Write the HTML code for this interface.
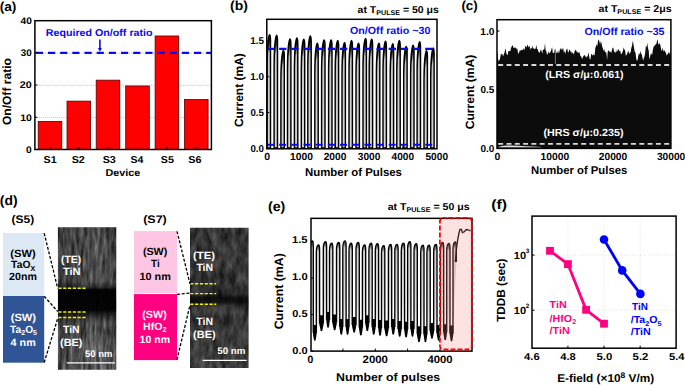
<!DOCTYPE html>
<html><head><meta charset="utf-8"><style>
html,body{margin:0;padding:0;background:#fff;width:685px;height:385px;overflow:hidden}
svg{display:block}
text{font-family:"Liberation Sans",sans-serif;font-weight:bold;text-rendering:geometricPrecision}
</style></head><body>
<svg width="685" height="385" viewBox="0 0 685 385">
<defs>
<clipPath id="clipb"><rect x="266.8" y="19.3" width="170.2" height="129.5"/></clipPath>
<clipPath id="clipc"><rect x="497.0" y="19.7" width="173.9" height="128.7"/></clipPath>
<clipPath id="clipe"><rect x="311.0" y="218.3" width="161.0" height="132.8"/></clipPath>
<clipPath id="clip1"><rect x="57.9" y="227.2" width="58.4" height="142.5"/></clipPath>
<clipPath id="clip2"><rect x="190.0" y="227.7" width="58.6" height="140.2"/></clipPath>
<filter id="tn1" filterUnits="userSpaceOnUse" x="57" y="226" width="60" height="145" color-interpolation-filters="sRGB">
<feTurbulence type="fractalNoise" baseFrequency="0.3 0.05" numOctaves="3" seed="4"/>
<feColorMatrix type="matrix" values="1 0 0 0 0 1 0 0 0 0 1 0 0 0 0 0 0 0 0 1"/>
<feComponentTransfer><feFuncR type="linear" slope="0.62" intercept="0.0"/><feFuncG type="linear" slope="0.62" intercept="0.0"/><feFuncB type="linear" slope="0.62" intercept="0.0"/></feComponentTransfer>
</filter>
<filter id="tn2" filterUnits="userSpaceOnUse" x="189" y="226" width="61" height="143" color-interpolation-filters="sRGB">
<feTurbulence type="fractalNoise" baseFrequency="0.16 0.07" numOctaves="3" seed="9"/>
<feColorMatrix type="matrix" values="1 0 0 0 0 1 0 0 0 0 1 0 0 0 0 0 0 0 0 1"/>
<feComponentTransfer><feFuncR type="linear" slope="0.45" intercept="0.025"/><feFuncG type="linear" slope="0.45" intercept="0.025"/><feFuncB type="linear" slope="0.45" intercept="0.025"/></feComponentTransfer>
</filter>
<linearGradient id="th1" x1="0" y1="0" x2="1" y2="0">
<stop offset="0" stop-color="#000" stop-opacity="0.15"/><stop offset="0.3" stop-color="#000" stop-opacity="0.05"/><stop offset="0.65" stop-color="#fff" stop-opacity="0.08"/><stop offset="1" stop-color="#000" stop-opacity="0.1"/></linearGradient>
<linearGradient id="th2" x1="0" y1="0" x2="1" y2="0">
<stop offset="0" stop-color="#000" stop-opacity="0.05"/><stop offset="1" stop-color="#000" stop-opacity="0.05"/></linearGradient>
<filter id="blurx" x="-5%" y="-5%" width="110%" height="110%"><feGaussianBlur stdDeviation="0.7 0"/></filter>
<linearGradient id="tv1" x1="0" y1="0" x2="0" y2="1">
<stop offset="0" stop-color="#000" stop-opacity="0.15"/><stop offset="0.38" stop-color="#000" stop-opacity="0.1"/>
<stop offset="0.42" stop-color="#000" stop-opacity="0.5"/><stop offset="0.44" stop-color="#000" stop-opacity="0.97"/>
<stop offset="0.58" stop-color="#000" stop-opacity="0.95"/><stop offset="0.64" stop-color="#000" stop-opacity="0.35"/><stop offset="0.68" stop-color="#000" stop-opacity="0.05"/>
<stop offset="1" stop-color="#000" stop-opacity="0"/></linearGradient>
<linearGradient id="tv2" x1="0" y1="0" x2="0" y2="1">
<stop offset="0" stop-color="#000" stop-opacity="0.1"/><stop offset="0.4" stop-color="#000" stop-opacity="0.15"/>
<stop offset="0.47" stop-color="#000" stop-opacity="0.3"/><stop offset="0.5" stop-color="#000" stop-opacity="0.75"/>
<stop offset="0.53" stop-color="#000" stop-opacity="0.75"/><stop offset="0.56" stop-color="#000" stop-opacity="0.3"/>
<stop offset="0.6" stop-color="#000" stop-opacity="0.05"/><stop offset="1" stop-color="#000" stop-opacity="0.05"/></linearGradient>
<linearGradient id="humpb" x1="0" y1="0" x2="0" y2="1">
<stop offset="0" stop-color="#000"/><stop offset="0.06" stop-color="#202020"/><stop offset="0.16" stop-color="#c4c4c4"/><stop offset="1" stop-color="#d8d8d8"/></linearGradient>
<linearGradient id="humpe" x1="0" y1="0" x2="0" y2="1">
<stop offset="0" stop-color="#000"/><stop offset="0.03" stop-color="#606060"/><stop offset="0.08" stop-color="#d0d0d0"/><stop offset="0.7" stop-color="#dcdcdc"/><stop offset="1" stop-color="#f4f4f4"/></linearGradient>
<linearGradient id="humpe2" x1="0" y1="0" x2="0" y2="1">
<stop offset="0" stop-color="#3a1c1c"/><stop offset="0.03" stop-color="#7a5c5c"/><stop offset="0.08" stop-color="#dcbcbc"/><stop offset="0.7" stop-color="#e4c8c8"/><stop offset="1" stop-color="#f4dede"/></linearGradient>
</defs>
<text transform="translate(-0.33,11.00) scale(1.0544,1)" font-size="13" fill="#000">(a)</text>
<line x1="34.90" y1="117.55" x2="211.40" y2="117.55" stroke="#b4b4b4" stroke-width="0.8" stroke-dasharray="1 1"/>
<line x1="34.90" y1="85.30" x2="211.40" y2="85.30" stroke="#b4b4b4" stroke-width="0.8" stroke-dasharray="1 1"/>
<line x1="34.90" y1="53.05" x2="211.40" y2="53.05" stroke="#b4b4b4" stroke-width="0.8" stroke-dasharray="1 1"/>
<rect x="38.20" y="121.44" width="23.60" height="28.06" fill="#ff0000" stroke="#5a0000" stroke-width="0.8" />
<rect x="67.00" y="101.12" width="23.60" height="48.38" fill="#ff0000" stroke="#5a0000" stroke-width="0.8" />
<rect x="96.20" y="80.16" width="23.60" height="69.34" fill="#ff0000" stroke="#5a0000" stroke-width="0.8" />
<rect x="125.70" y="85.97" width="23.60" height="63.53" fill="#ff0000" stroke="#5a0000" stroke-width="0.8" />
<rect x="155.10" y="35.98" width="23.60" height="113.52" fill="#ff0000" stroke="#5a0000" stroke-width="0.8" />
<rect x="184.50" y="99.51" width="23.60" height="49.99" fill="#ff0000" stroke="#5a0000" stroke-width="0.8" />
<line x1="35.80" y1="52.90" x2="211.00" y2="52.90" stroke="#0a0af0" stroke-width="2.1" stroke-dasharray="7.2 4.97"/>
<line x1="99.90" y1="39.40" x2="99.90" y2="48.80" stroke="#0a0af0" stroke-width="1.6" />
<path d="M97.9,48.0 L101.9,48.0 L99.9,51.8 Z" fill="#0a0af0"/>
<text transform="translate(45.75,36.10) scale(1.0677,1)" font-size="10" fill="#0a0af0">Required On/off ratio</text>
<rect x="34.90" y="20.70" width="176.50" height="128.80" fill="none" stroke="#000" stroke-width="1.5" />
<text transform="translate(26.07,152.80) scale(1.0667,1)" font-size="9.6" fill="#000">0</text>
<text transform="translate(20.14,120.55) scale(1.0938,1)" font-size="9.6" fill="#000">10</text>
<line x1="34.90" y1="117.25" x2="37.40" y2="117.25" stroke="#000" stroke-width="1" />
<text transform="translate(19.86,88.30) scale(1.1212,1)" font-size="9.6" fill="#000">20</text>
<line x1="34.90" y1="85.00" x2="37.40" y2="85.00" stroke="#000" stroke-width="1" />
<text transform="translate(20.79,56.05) scale(1.0300,1)" font-size="9.6" fill="#000">30</text>
<line x1="34.90" y1="52.75" x2="37.40" y2="52.75" stroke="#000" stroke-width="1" />
<text transform="translate(20.49,23.80) scale(1.0594,1)" font-size="9.6" fill="#000">40</text>
<line x1="50.00" y1="149.50" x2="50.00" y2="147.00" stroke="#000" stroke-width="1" />
<line x1="78.80" y1="149.50" x2="78.80" y2="147.00" stroke="#000" stroke-width="1" />
<line x1="108.00" y1="149.50" x2="108.00" y2="147.00" stroke="#000" stroke-width="1" />
<line x1="137.50" y1="149.50" x2="137.50" y2="147.00" stroke="#000" stroke-width="1" />
<line x1="166.90" y1="149.50" x2="166.90" y2="147.00" stroke="#000" stroke-width="1" />
<line x1="196.30" y1="149.50" x2="196.30" y2="147.00" stroke="#000" stroke-width="1" />
<text transform="translate(43.53,162.80) scale(1.0684,1)" font-size="10" fill="#000">S1</text>
<text transform="translate(71.63,162.80) scale(1.0776,1)" font-size="10" fill="#000">S2</text>
<text transform="translate(102.68,162.80) scale(1.0776,1)" font-size="10" fill="#000">S3</text>
<text transform="translate(130.48,162.80) scale(1.0504,1)" font-size="10" fill="#000">S4</text>
<text transform="translate(160.78,162.80) scale(1.0684,1)" font-size="10" fill="#000">S5</text>
<text transform="translate(188.28,162.80) scale(1.0776,1)" font-size="10" fill="#000">S6</text>
<text transform="translate(105.44,175.50) scale(1.0801,1)" font-size="10" fill="#000">Device</text>
<text transform="translate(11.10,125.10) rotate(-90) scale(1.0046,1)" font-size="12.0" fill="#000">On/Off ratio</text>
<text transform="translate(230.05,9.80) scale(1.0779,1)" font-size="13" fill="#000">(b)</text>
<g clip-path="url(#clipb)">
<path d="M267.10,148.0 L267.10,64.60 C267.20,48.60 268.70,36.10 269.60,34.60 C270.10,34.60 270.50,36.60 270.50,40.60 L270.50,148.0 Z" fill="url(#humpb)" stroke="#000" stroke-width="1.45" stroke-linejoin="round"/>
<path d="M274.10,148.0 L274.10,65.30 C274.20,49.30 275.70,36.80 276.60,35.30 C277.10,35.30 277.50,37.30 277.50,41.30 L277.50,148.0 Z" fill="url(#humpb)" stroke="#000" stroke-width="1.45" stroke-linejoin="round"/>
<path d="M280.90,148.0 L280.90,80.40 C281.00,64.40 282.50,51.90 283.40,50.40 C283.90,50.40 284.30,52.40 284.30,56.40 L284.30,148.0 Z" fill="url(#humpb)" stroke="#000" stroke-width="1.45" stroke-linejoin="round"/>
<path d="M287.50,148.0 L287.50,68.90 C287.60,52.90 289.10,40.40 290.00,38.90 C290.50,38.90 290.90,40.90 290.90,44.90 L290.90,148.0 Z" fill="url(#humpb)" stroke="#000" stroke-width="1.45" stroke-linejoin="round"/>
<path d="M294.40,148.0 L294.40,67.90 C294.50,51.90 296.00,39.40 296.90,37.90 C297.40,37.90 297.80,39.90 297.80,43.90 L297.80,148.0 Z" fill="url(#humpb)" stroke="#000" stroke-width="1.45" stroke-linejoin="round"/>
<path d="M301.30,148.0 L301.30,69.20 C301.40,53.20 302.90,40.70 303.80,39.20 C304.30,39.20 304.70,41.20 304.70,45.20 L304.70,148.0 Z" fill="url(#humpb)" stroke="#000" stroke-width="1.45" stroke-linejoin="round"/>
<path d="M307.80,148.0 L307.80,65.90 C307.90,49.90 309.40,37.40 310.30,35.90 C310.80,35.90 311.20,37.90 311.20,41.90 L311.20,148.0 Z" fill="url(#humpb)" stroke="#000" stroke-width="1.45" stroke-linejoin="round"/>
<path d="M314.80,148.0 L314.80,73.10 C314.90,57.10 316.40,44.60 317.30,43.10 C317.80,43.10 318.20,45.10 318.20,49.10 L318.20,148.0 Z" fill="url(#humpb)" stroke="#000" stroke-width="1.45" stroke-linejoin="round"/>
<path d="M321.60,148.0 L321.60,69.90 C321.70,53.90 323.20,41.40 324.10,39.90 C324.60,39.90 325.00,41.90 325.00,45.90 L325.00,148.0 Z" fill="url(#humpb)" stroke="#000" stroke-width="1.45" stroke-linejoin="round"/>
<path d="M328.60,148.0 L328.60,69.90 C328.70,53.90 330.20,41.40 331.10,39.90 C331.60,39.90 332.00,41.90 332.00,45.90 L332.00,148.0 Z" fill="url(#humpb)" stroke="#000" stroke-width="1.45" stroke-linejoin="round"/>
<path d="M335.20,148.0 L335.20,70.50 C335.30,54.50 336.80,42.00 337.70,40.50 C338.20,40.50 338.60,42.50 338.60,46.50 L338.60,148.0 Z" fill="url(#humpb)" stroke="#000" stroke-width="1.45" stroke-linejoin="round"/>
<path d="M342.00,148.0 L342.00,72.50 C342.10,56.50 343.60,44.00 344.50,42.50 C345.00,42.50 345.40,44.50 345.40,48.50 L345.40,148.0 Z" fill="url(#humpb)" stroke="#000" stroke-width="1.45" stroke-linejoin="round"/>
<path d="M349.00,148.0 L349.00,70.50 C349.10,54.50 350.60,42.00 351.50,40.50 C352.00,40.50 352.40,42.50 352.40,46.50 L352.40,148.0 Z" fill="url(#humpb)" stroke="#000" stroke-width="1.45" stroke-linejoin="round"/>
<path d="M356.00,148.0 L356.00,73.10 C356.10,57.10 357.60,44.60 358.50,43.10 C359.00,43.10 359.40,45.10 359.40,49.10 L359.40,148.0 Z" fill="url(#humpb)" stroke="#000" stroke-width="1.45" stroke-linejoin="round"/>
<path d="M363.00,148.0 L363.00,68.50 C363.10,52.50 364.60,40.00 365.50,38.50 C366.00,38.50 366.40,40.50 366.40,44.50 L366.40,148.0 Z" fill="url(#humpb)" stroke="#000" stroke-width="1.45" stroke-linejoin="round"/>
<path d="M369.20,148.0 L369.20,69.20 C369.30,53.20 370.80,40.70 371.70,39.20 C372.20,39.20 372.60,41.20 372.60,45.20 L372.60,148.0 Z" fill="url(#humpb)" stroke="#000" stroke-width="1.45" stroke-linejoin="round"/>
<path d="M376.40,148.0 L376.40,73.10 C376.50,57.10 378.00,44.60 378.90,43.10 C379.40,43.10 379.80,45.10 379.80,49.10 L379.80,148.0 Z" fill="url(#humpb)" stroke="#000" stroke-width="1.45" stroke-linejoin="round"/>
<path d="M383.00,148.0 L383.00,71.20 C383.10,55.20 384.60,42.70 385.50,41.20 C386.00,41.20 386.40,43.20 386.40,47.20 L386.40,148.0 Z" fill="url(#humpb)" stroke="#000" stroke-width="1.45" stroke-linejoin="round"/>
<path d="M390.20,148.0 L390.20,73.80 C390.30,57.80 391.80,45.30 392.70,43.80 C393.20,43.80 393.60,45.80 393.60,49.80 L393.60,148.0 Z" fill="url(#humpb)" stroke="#000" stroke-width="1.45" stroke-linejoin="round"/>
<path d="M396.80,148.0 L396.80,70.50 C396.90,54.50 398.40,42.00 399.30,40.50 C399.80,40.50 400.20,42.50 400.20,46.50 L400.20,148.0 Z" fill="url(#humpb)" stroke="#000" stroke-width="1.45" stroke-linejoin="round"/>
<path d="M403.70,148.0 L403.70,76.40 C403.80,60.40 405.30,47.90 406.20,46.40 C406.70,46.40 407.10,48.40 407.10,52.40 L407.10,148.0 Z" fill="url(#humpb)" stroke="#000" stroke-width="1.45" stroke-linejoin="round"/>
<path d="M410.60,148.0 L410.60,75.10 C410.70,59.10 412.20,46.60 413.10,45.10 C413.60,45.10 414.00,47.10 414.00,51.10 L414.00,148.0 Z" fill="url(#humpb)" stroke="#000" stroke-width="1.45" stroke-linejoin="round"/>
<path d="M417.10,148.0 L417.10,71.80 C417.20,55.80 418.70,43.30 419.60,41.80 C420.10,41.80 420.50,43.80 420.50,47.80 L420.50,148.0 Z" fill="url(#humpb)" stroke="#000" stroke-width="1.45" stroke-linejoin="round"/>
<path d="M424.00,148.0 L424.00,80.60 C424.10,64.60 425.60,52.10 426.50,50.60 C427.00,50.60 427.40,52.60 427.40,56.60 L427.40,148.0 Z" fill="url(#humpb)" stroke="#000" stroke-width="1.45" stroke-linejoin="round"/>
<path d="M430.70,148.0 L430.70,78.00 C430.80,62.00 432.30,49.50 433.20,48.00 C433.70,48.00 434.10,50.00 434.10,54.00 L434.10,148.0 Z" fill="url(#humpb)" stroke="#000" stroke-width="1.45" stroke-linejoin="round"/>
</g>
<line x1="267.00" y1="48.90" x2="437.00" y2="48.90" stroke="#0a0af0" stroke-width="2.1" stroke-dasharray="7.25 4.92"/>
<line x1="267.00" y1="144.80" x2="437.00" y2="144.80" stroke="#0a0af0" stroke-width="2.1" stroke-dasharray="7.0 5.17"/>
<rect x="266.80" y="19.30" width="170.20" height="129.50" fill="none" stroke="#000" stroke-width="1.5" />
<text transform="translate(250.41,151.70) scale(0.9771,1)" font-size="10" fill="#000">0.0</text>
<line x1="266.80" y1="148.30" x2="269.30" y2="148.30" stroke="#000" stroke-width="1" />
<text transform="translate(250.41,115.90) scale(0.9697,1)" font-size="10" fill="#000">0.5</text>
<line x1="266.80" y1="112.50" x2="269.30" y2="112.50" stroke="#000" stroke-width="1" />
<text transform="translate(250.20,80.20) scale(0.9922,1)" font-size="10" fill="#000">1.0</text>
<line x1="266.80" y1="76.70" x2="269.30" y2="76.70" stroke="#000" stroke-width="1" />
<text transform="translate(250.21,43.60) scale(0.9846,1)" font-size="10" fill="#000">1.5</text>
<line x1="266.80" y1="40.90" x2="269.30" y2="40.90" stroke="#000" stroke-width="1" />
<text transform="translate(264.29,160.00) scale(1.0204,1)" font-size="10.3" fill="#000">0</text>
<text transform="translate(289.95,160.00) scale(1.0000,1)" font-size="10.3" fill="#000">1000</text>
<line x1="301.50" y1="148.80" x2="301.50" y2="146.30" stroke="#000" stroke-width="1" />
<text transform="translate(323.65,160.00) scale(0.9910,1)" font-size="10.3" fill="#000">2000</text>
<line x1="335.00" y1="148.80" x2="335.00" y2="146.30" stroke="#000" stroke-width="1" />
<text transform="translate(357.75,160.00) scale(0.9865,1)" font-size="10.3" fill="#000">3000</text>
<line x1="369.00" y1="148.80" x2="369.00" y2="146.30" stroke="#000" stroke-width="1" />
<text transform="translate(391.55,160.00) scale(0.9821,1)" font-size="10.3" fill="#000">4000</text>
<line x1="402.70" y1="148.80" x2="402.70" y2="146.30" stroke="#000" stroke-width="1" />
<text transform="translate(425.45,160.00) scale(0.9865,1)" font-size="10.3" fill="#000">5000</text>
<text transform="translate(305.00,175.80) scale(1.0010,1)" font-size="11.4" fill="#000">Number of Pulses</text>
<text transform="translate(243.30,127.10) rotate(-90) scale(0.9986,1)" font-size="12.0" fill="#000">Current (mA)</text>
<text transform="translate(357.59,12.50) scale(1.0489,1)" fill="#000" xml:space="preserve"><tspan font-size="10" dy="0">at T</tspan><tspan font-size="6.8" dy="2">PULSE</tspan><tspan font-size="10" dy="-2"> = 50 μs</tspan></text>
<text transform="translate(349.99,33.80) scale(1.0271,1)" font-size="10.4" fill="#0a0af0">On/Off ratio ~30</text>
<text transform="translate(461.38,9.90) scale(1.0272,1)" font-size="13" fill="#000">(c)</text>
<g clip-path="url(#clipc)"><polygon points="495.00,53.36 495.62,53.02 496.25,54.31 496.88,52.82 497.50,53.01 498.25,61.70 499.00,58.98 499.67,60.64 500.33,56.68 501.00,53.60 501.67,54.54 502.33,53.65 503.00,56.59 503.67,54.79 504.33,53.11 505.00,50.98 505.67,48.23 506.33,53.42 507.00,54.69 507.67,54.90 508.33,51.17 509.00,51.11 509.67,51.11 510.33,51.31 511.00,47.94 511.80,46.14 512.60,45.01 513.40,47.56 514.05,48.20 514.70,47.56 515.35,47.20 516.00,48.50 516.67,48.65 517.33,48.60 518.00,52.95 518.65,53.72 519.30,51.80 519.95,50.20 520.60,50.84 521.27,49.93 521.93,49.80 522.60,50.52 523.27,48.25 523.93,49.42 524.60,49.70 525.23,46.46 525.87,45.95 526.50,47.71 527.17,44.78 527.85,45.53 528.53,47.59 529.20,45.52 529.85,47.12 530.50,49.69 531.15,47.77 531.80,48.48 532.45,45.27 533.10,49.31 533.75,47.71 534.40,48.89 535.05,49.37 535.70,48.30 536.35,44.70 537.00,49.10 537.70,49.10 538.40,51.81 539.03,51.67 539.67,53.17 540.30,50.85 540.97,49.61 541.63,51.17 542.30,53.75 542.97,49.05 543.65,50.12 544.33,49.04 545.00,42.89 545.63,50.53 546.27,51.05 546.90,54.80 547.57,54.16 548.23,51.05 548.90,53.73 549.55,52.80 550.20,52.36 550.85,51.23 551.50,48.93 552.15,47.25 552.80,53.01 553.45,52.92 554.10,53.00 554.75,49.42 555.40,48.97 556.07,51.51 556.73,53.13 557.40,52.97 558.07,50.04 558.73,53.24 559.40,52.10 560.05,48.76 560.70,48.61 561.35,50.60 562.00,47.27 562.65,49.84 563.30,48.36 563.95,52.93 564.60,50.74 565.27,53.91 565.95,50.64 566.62,49.18 567.30,48.42 567.95,52.38 568.60,52.29 569.25,49.55 569.90,50.09 570.55,51.71 571.20,51.29 571.85,53.78 572.50,52.12 573.15,53.90 573.80,53.79 574.45,51.92 575.10,49.48 575.77,50.38 576.45,50.75 577.12,53.12 577.80,51.53 578.45,53.19 579.10,51.87 579.75,53.14 580.40,56.10 581.25,56.42 582.10,59.21 582.80,57.20 583.50,56.05 584.20,55.09 584.88,55.38 585.55,56.53 586.23,57.77 586.90,56.26 587.60,56.45 588.30,52.24 589.00,55.52 589.70,59.02 590.40,59.58 591.10,54.25 591.80,53.91 592.50,55.82 593.20,53.83 593.90,55.55 594.60,54.92 595.30,48.04 596.00,46.37 596.67,44.26 597.33,45.88 598.00,41.12 598.70,39.24 599.40,41.58 600.10,44.42 600.80,41.06 601.50,43.22 602.20,46.69 602.90,48.29 603.60,50.97 604.30,48.96 605.00,52.41 605.70,51.89 606.40,52.85 607.08,60.11 607.75,51.42 608.42,50.32 609.10,51.00 609.80,52.10 610.50,51.51 611.20,53.32 611.90,49.88 612.60,48.02 613.30,47.57 614.00,51.38 614.70,52.07 615.40,53.23 616.07,49.86 616.73,52.32 617.40,51.09 618.10,49.00 618.80,49.97 619.50,51.27 620.20,50.73 620.90,53.72 621.60,53.96 622.30,52.60 623.00,50.83 623.70,47.16 624.40,49.42 625.10,50.51 625.80,55.80 626.50,55.04 627.17,53.69 627.83,51.69 628.50,50.76 629.20,54.58 629.90,52.08 630.60,53.06 631.30,47.77 632.00,45.92 632.70,40.78 633.40,43.86 634.10,48.16 634.80,51.88 635.50,52.44 636.20,58.23 636.90,60.89 637.60,60.00 638.30,55.70 639.00,53.06 639.67,54.76 640.33,50.47 641.00,54.23 641.70,53.71 642.40,57.42 643.10,60.84 643.80,58.00 644.50,56.57 645.20,52.71 645.90,45.27 646.60,47.51 647.30,42.66 648.00,48.23 648.70,50.58 649.40,59.19 650.07,57.09 650.73,53.86 651.40,53.51 652.10,55.22 652.80,50.59 653.50,46.97 654.20,45.74 654.90,45.84 655.60,44.13 656.30,44.01 657.00,41.24 657.70,39.25 658.37,45.10 659.03,43.57 659.70,43.57 660.40,45.22 661.10,48.97 661.80,51.20 662.50,47.44 663.20,51.44 663.90,50.28 664.60,50.59 665.30,51.96 666.00,53.02 666.70,55.66 667.40,54.14 668.10,53.50 668.80,52.02 669.50,54.54 670.20,50.34 671.00,55.80 671,148.4 497,148.4" fill="#0c0c0c"/>
<path d="M498,147.6 L498,146.8 C503,145.8 507,145.3 512,145.6 C520,146.1 530,146.5 541,147.1 L541,147.6 Z" fill="#e0e0e0"/>
<line x1="555.4" y1="50" x2="555.4" y2="64" stroke="#bbb" stroke-width="0.6"/>
</g>
<line x1="498.20" y1="64.95" x2="670.90" y2="64.95" stroke="#d8d8d8" stroke-width="1.9" stroke-dasharray="4.95 3.35"/>
<line x1="498.20" y1="143.90" x2="670.90" y2="143.90" stroke="#d8d8d8" stroke-width="1.9" stroke-dasharray="4.95 3.35"/>
<rect x="497.00" y="19.70" width="173.90" height="128.70" fill="none" stroke="#000" stroke-width="1.5" />
<text transform="translate(545.28,78.10) scale(1.0348,1)" font-size="10.3" fill="#fff">(LRS σ/μ:0.061)</text>
<text transform="translate(543.38,136.30) scale(1.0422,1)" font-size="10.3" fill="#fff">(HRS σ/μ:0.235)</text>
<text transform="translate(480.50,151.60) scale(1.0000,1)" font-size="10" fill="#000">0.0</text>
<line x1="497.00" y1="147.00" x2="499.50" y2="147.00" stroke="#000" stroke-width="1" />
<text transform="translate(480.50,92.60) scale(0.9924,1)" font-size="10" fill="#000">0.5</text>
<line x1="497.00" y1="89.00" x2="499.50" y2="89.00" stroke="#000" stroke-width="1" />
<text transform="translate(480.29,34.80) scale(1.0155,1)" font-size="10" fill="#000">1.0</text>
<line x1="497.00" y1="31.00" x2="499.50" y2="31.00" stroke="#000" stroke-width="1" />
<text transform="translate(494.59,159.80) scale(1.0204,1)" font-size="10.3" fill="#000">0</text>
<text transform="translate(540.60,159.80) scale(1.0000,1)" font-size="10.3" fill="#000">10000</text>
<text transform="translate(598.80,159.80) scale(0.9928,1)" font-size="10.3" fill="#000">20000</text>
<text transform="translate(656.90,159.80) scale(0.9892,1)" font-size="10.3" fill="#000">30000</text>
<text transform="translate(531.11,174.20) scale(0.9927,1)" font-size="11.4" fill="#000">Number of Pulses</text>
<text transform="translate(474.40,129.30) rotate(-90) scale(1.0096,1)" font-size="12.0" fill="#000">Current (mA)</text>
<text transform="translate(598.58,12.30) scale(1.0563,1)" fill="#000" xml:space="preserve"><tspan font-size="10" dy="0">at T</tspan><tspan font-size="6.8" dy="2">PULSE</tspan><tspan font-size="10" dy="-2"> = 2μs</tspan></text>
<text transform="translate(584.39,34.50) scale(1.0245,1)" font-size="10.4" fill="#0a0af0">On/Off ratio ~35</text>
<text transform="translate(-0.22,204.90) scale(1.0316,1)" font-size="13.5" fill="#000">(d)</text>
<text transform="translate(11.45,222.80) scale(1.0914,1)" font-size="11" fill="#000">(S5)</text>
<text transform="translate(143.13,222.80) scale(1.1371,1)" font-size="11" fill="#000">(S7)</text>
<rect x="3.00" y="232.90" width="41.20" height="62.30" fill="#dce8f4" stroke="none" stroke-width="1" />
<rect x="3.00" y="295.90" width="41.20" height="66.80" fill="#2f5597" stroke="none" stroke-width="1" />
<rect x="134.00" y="231.10" width="43.00" height="62.10" fill="#fec6e2" stroke="none" stroke-width="1" />
<rect x="134.00" y="294.10" width="43.00" height="66.00" fill="#ff0080" stroke="none" stroke-width="1" />
<g clip-path="url(#clip1)">
<rect x="57.9" y="227.2" width="58.4" height="142.5" fill="#4c4c4c" filter="url(#tn1)"/>
<rect x="57.9" y="227.2" width="58.4" height="142.5" fill="url(#th1)"/>
<rect x="57.9" y="227.2" width="58.4" height="142.5" fill="url(#tv1)"/>
</g>
<g clip-path="url(#clip2)">
<rect x="190.0" y="227.7" width="58.599999999999994" height="140.2" fill="#3a3a3a" filter="url(#tn2)"/>
<rect x="190.0" y="227.7" width="58.599999999999994" height="140.2" fill="url(#th2)"/>
<rect x="190.0" y="227.7" width="58.599999999999994" height="140.2" fill="url(#tv2)"/>
</g>
<line x1="58.40" y1="288.30" x2="86.00" y2="288.30" stroke="#f2f000" stroke-width="1.4" stroke-dasharray="3.2 1.6"/>
<line x1="58.40" y1="312.00" x2="86.00" y2="312.00" stroke="#f2f000" stroke-width="1.4" stroke-dasharray="3.2 1.6"/>
<line x1="58.40" y1="317.50" x2="86.00" y2="317.50" stroke="#f2f000" stroke-width="1.4" stroke-dasharray="3.2 1.6"/>
<line x1="190.30" y1="283.70" x2="216.20" y2="283.70" stroke="#f2f000" stroke-width="1.4" stroke-dasharray="3.2 1.6"/>
<line x1="190.30" y1="293.60" x2="216.20" y2="293.60" stroke="#f2f000" stroke-width="1.4" stroke-dasharray="3.2 1.6"/>
<line x1="190.30" y1="304.20" x2="216.20" y2="304.20" stroke="#f2f000" stroke-width="1.4" stroke-dasharray="3.2 1.6"/>
<line x1="44.20" y1="233.20" x2="57.70" y2="288.30" stroke="#000" stroke-width="1.3" stroke-dasharray="3 1.7"/>
<line x1="44.20" y1="296.20" x2="57.70" y2="311.50" stroke="#000" stroke-width="1.3" stroke-dasharray="3 1.7"/>
<line x1="44.20" y1="362.50" x2="57.70" y2="318.50" stroke="#000" stroke-width="1.3" stroke-dasharray="3 1.7"/>
<line x1="177.00" y1="231.30" x2="190.00" y2="283.80" stroke="#000" stroke-width="1.3" stroke-dasharray="3 1.7"/>
<line x1="177.00" y1="294.30" x2="190.00" y2="293.10" stroke="#000" stroke-width="1.3" stroke-dasharray="3 1.7"/>
<line x1="177.00" y1="359.80" x2="190.00" y2="305.00" stroke="#000" stroke-width="1.3" stroke-dasharray="3 1.7"/>
<text transform="translate(10.27,256.90) scale(1.0611,1)" font-size="10.5" fill="#000">(SW)</text>
<text transform="translate(11.10,268.30) scale(0.9859,1)" fill="#000" xml:space="preserve"><tspan font-size="10.5" dy="0">TaO</tspan><tspan font-size="7.2" dy="2.2">X</tspan></text>
<text transform="translate(9.10,280.30) scale(1.0114,1)" font-size="10.5" fill="#000">20nm</text>
<text transform="translate(10.67,321.20) scale(1.0611,1)" font-size="10.5" fill="#fff">(SW)</text>
<text transform="translate(10.10,332.90) scale(0.9727,1)" fill="#fff" xml:space="preserve"><tspan font-size="10.5" dy="0">Ta</tspan><tspan font-size="7.2" dy="2.2">2</tspan><tspan font-size="10.5" dy="-2.2">O</tspan><tspan font-size="7.2" dy="2.2">5</tspan></text>
<text transform="translate(10.59,346.30) scale(1.0253,1)" font-size="10.5" fill="#fff">4 nm</text>
<text transform="translate(142.89,254.50) scale(1.0218,1)" font-size="10.5" fill="#000">(SW)</text>
<text transform="translate(151.11,266.60) scale(0.9398,1)" font-size="10.5" fill="#000">Ti</text>
<text transform="translate(139.48,279.60) scale(1.0310,1)" font-size="10.5" fill="#000">10 nm</text>
<text transform="translate(142.29,317.90) scale(1.0218,1)" font-size="10.5" fill="#fff">(SW)</text>
<text transform="translate(143.10,329.90) scale(1.0069,1)" fill="#fff" xml:space="preserve"><tspan font-size="10.5" dy="0">HfO</tspan><tspan font-size="7.2" dy="2.2">2</tspan></text>
<text transform="translate(139.50,342.90) scale(1.0069,1)" font-size="10.5" fill="#fff">10 nm</text>
<text transform="translate(61.11,262.70) scale(0.9845,1)" font-size="10.5" fill="#fff">(TE)</text>
<text transform="translate(62.89,275.00) scale(1.0566,1)" font-size="10.5" fill="#fff">TiN</text>
<text transform="translate(63.10,332.50) scale(0.9811,1)" font-size="10.5" fill="#fff">TiN</text>
<text transform="translate(60.08,345.90) scale(1.0388,1)" font-size="10.5" fill="#fff">(BE)</text>
<text transform="translate(85.00,356.70) scale(1.0000,1)" font-size="9.5" fill="#fff">50 nm</text>
<line x1="66.80" y1="362.90" x2="114.90" y2="362.90" stroke="#fff" stroke-width="1.4" />
<text transform="translate(193.06,258.60) scale(1.0722,1)" font-size="10.5" fill="#fff">(TE)</text>
<text transform="translate(196.40,270.70) scale(0.9937,1)" font-size="10.5" fill="#fff">TiN</text>
<text transform="translate(196.30,324.50) scale(0.9937,1)" font-size="10.5" fill="#fff">TiN</text>
<text transform="translate(193.08,338.20) scale(1.0437,1)" font-size="10.5" fill="#fff">(BE)</text>
<text transform="translate(217.29,354.20) scale(1.0263,1)" font-size="9.5" fill="#fff">50 nm</text>
<line x1="202.70" y1="360.40" x2="246.70" y2="360.40" stroke="#fff" stroke-width="1.4" />
<text transform="translate(267.96,210.60) scale(1.0530,1)" font-size="13.5" fill="#000">(e)</text>
<rect x="439.9" y="217.9" width="31.9" height="131.6" rx="3.5" fill="#fde2e2"/>
<g clip-path="url(#clipe)">
<path d="M310.00,313.00 L310.00,248.90 C310.00,242.90 311.30,240.90 312.30,240.90 C312.90,240.90 313.30,242.40 313.30,245.90 L313.30,332.90" fill="url(#humpe)" stroke="#000" stroke-width="1.35" stroke-linejoin="round"/>
<path d="M312.90,324.90 L316.70,324.90 L316.60,333.90 L315.70,339.90 L314.80,340.90 L313.90,339.90 L313.00,333.90 Z" fill="#000"/>
<path d="M316.30,332.90 L316.30,252.80 C316.30,246.80 317.60,244.80 318.60,244.80 C319.20,244.80 319.60,246.30 319.60,249.80 L319.60,323.20" fill="url(#humpe)" stroke="#000" stroke-width="1.35" stroke-linejoin="round"/>
<path d="M319.20,315.20 L323.70,315.20 L323.60,324.20 L322.35,330.20 L321.45,331.20 L320.55,330.20 L319.30,324.20 Z" fill="#000"/>
<path d="M323.30,323.20 L323.30,249.70 C323.30,243.70 324.60,241.70 325.60,241.70 C326.20,241.70 326.60,243.20 326.60,246.70 L326.60,319.90" fill="url(#humpe)" stroke="#000" stroke-width="1.35" stroke-linejoin="round"/>
<path d="M326.20,311.90 L329.90,311.90 L329.80,320.90 L328.95,326.90 L328.05,327.90 L327.15,326.90 L326.30,320.90 Z" fill="#000"/>
<path d="M329.50,319.90 L329.50,251.20 C329.50,245.20 330.80,243.20 331.80,243.20 C332.40,243.20 332.80,244.70 332.80,248.20 L332.80,322.50" fill="url(#humpe)" stroke="#000" stroke-width="1.35" stroke-linejoin="round"/>
<path d="M332.40,314.50 L336.90,314.50 L336.80,323.50 L335.55,329.50 L334.65,330.50 L333.75,329.50 L332.50,323.50 Z" fill="#000"/>
<path d="M336.50,322.50 L336.50,250.50 C336.50,244.50 337.80,242.50 338.80,242.50 C339.40,242.50 339.80,244.00 339.80,247.50 L339.80,327.10" fill="url(#humpe)" stroke="#000" stroke-width="1.35" stroke-linejoin="round"/>
<path d="M339.40,319.10 L343.20,319.10 L343.10,328.10 L342.20,334.10 L341.30,335.10 L340.40,334.10 L339.50,328.10 Z" fill="#000"/>
<path d="M342.80,327.10 L342.80,248.90 C342.80,242.90 344.10,240.90 345.10,240.90 C345.70,240.90 346.10,242.40 346.10,245.90 L346.10,327.10" fill="url(#humpe)" stroke="#000" stroke-width="1.35" stroke-linejoin="round"/>
<path d="M345.70,319.10 L349.40,319.10 L349.30,328.10 L348.45,334.10 L347.55,335.10 L346.65,334.10 L345.80,328.10 Z" fill="#000"/>
<path d="M349.00,327.10 L349.00,251.20 C349.00,245.20 350.30,243.20 351.30,243.20 C351.90,243.20 352.30,244.70 352.30,248.20 L352.30,325.10" fill="url(#humpe)" stroke="#000" stroke-width="1.35" stroke-linejoin="round"/>
<path d="M351.90,317.10 L356.40,317.10 L356.30,326.10 L355.05,332.10 L354.15,333.10 L353.25,332.10 L352.00,326.10 Z" fill="#000"/>
<path d="M356.00,325.10 L356.00,250.50 C356.00,244.50 357.30,242.50 358.30,242.50 C358.90,242.50 359.30,244.00 359.30,247.50 L359.30,327.70" fill="url(#humpe)" stroke="#000" stroke-width="1.35" stroke-linejoin="round"/>
<path d="M358.90,319.70 L362.80,319.70 L362.70,328.70 L361.75,334.70 L360.85,335.70 L359.95,334.70 L359.00,328.70 Z" fill="#000"/>
<path d="M362.40,327.70 L362.40,252.80 C362.40,246.80 363.70,244.80 364.70,244.80 C365.30,244.80 365.70,246.30 365.70,249.80 L365.70,323.20" fill="url(#humpe)" stroke="#000" stroke-width="1.35" stroke-linejoin="round"/>
<path d="M365.30,315.20 L369.30,315.20 L369.20,324.20 L368.20,330.20 L367.30,331.20 L366.40,330.20 L365.40,324.20 Z" fill="#000"/>
<path d="M368.90,323.20 L368.90,251.20 C368.90,245.20 370.20,243.20 371.20,243.20 C371.80,243.20 372.20,244.70 372.20,248.20 L372.20,327.10" fill="url(#humpe)" stroke="#000" stroke-width="1.35" stroke-linejoin="round"/>
<path d="M371.80,319.10 L375.70,319.10 L375.60,328.10 L374.65,334.10 L373.75,335.10 L372.85,334.10 L371.90,328.10 Z" fill="#000"/>
<path d="M375.30,327.10 L375.30,251.70 C375.30,245.70 376.60,243.70 377.60,243.70 C378.20,243.70 378.60,245.20 378.60,248.70 L378.60,327.90" fill="url(#humpe)" stroke="#000" stroke-width="1.35" stroke-linejoin="round"/>
<path d="M378.20,319.90 L381.90,319.90 L381.80,328.90 L380.95,334.90 L380.05,335.90 L379.15,334.90 L378.30,328.90 Z" fill="#000"/>
<path d="M381.50,327.90 L381.50,253.60 C381.50,247.60 382.80,245.60 383.80,245.60 C384.40,245.60 384.80,247.10 384.80,250.60 L384.80,328.40" fill="url(#humpe)" stroke="#000" stroke-width="1.35" stroke-linejoin="round"/>
<path d="M384.40,320.40 L388.80,320.40 L388.70,329.40 L387.50,335.40 L386.60,336.40 L385.70,335.40 L384.50,329.40 Z" fill="#000"/>
<path d="M388.40,328.40 L388.40,252.30 C388.40,246.30 389.70,244.30 390.70,244.30 C391.30,244.30 391.70,245.80 391.70,249.30 L391.70,327.10" fill="url(#humpe)" stroke="#000" stroke-width="1.35" stroke-linejoin="round"/>
<path d="M391.30,319.10 L395.20,319.10 L395.10,328.10 L394.15,334.10 L393.25,335.10 L392.35,334.10 L391.40,328.10 Z" fill="#000"/>
<path d="M394.80,327.10 L394.80,252.30 C394.80,246.30 396.10,244.30 397.10,244.30 C397.70,244.30 398.10,245.80 398.10,249.30 L398.10,329.00" fill="url(#humpe)" stroke="#000" stroke-width="1.35" stroke-linejoin="round"/>
<path d="M397.70,321.00 L401.70,321.00 L401.60,330.00 L400.60,336.00 L399.70,337.00 L398.80,336.00 L397.80,330.00 Z" fill="#000"/>
<path d="M401.30,329.00 L401.30,251.20 C401.30,245.20 402.60,243.20 403.60,243.20 C404.20,243.20 404.60,244.70 404.60,248.20 L404.60,329.70" fill="url(#humpe)" stroke="#000" stroke-width="1.35" stroke-linejoin="round"/>
<path d="M404.20,321.70 L408.00,321.70 L407.90,330.70 L407.00,336.70 L406.10,337.70 L405.20,336.70 L404.30,330.70 Z" fill="#000"/>
<path d="M407.60,329.70 L407.60,249.70 C407.60,243.70 408.90,241.70 409.90,241.70 C410.50,241.70 410.90,243.20 410.90,246.70 L410.90,329.00" fill="url(#humpe)" stroke="#000" stroke-width="1.35" stroke-linejoin="round"/>
<path d="M410.50,321.00 L414.40,321.00 L414.30,330.00 L413.35,336.00 L412.45,337.00 L411.55,336.00 L410.60,330.00 Z" fill="#000"/>
<path d="M414.00,329.00 L414.00,251.70 C414.00,245.70 415.30,243.70 416.30,243.70 C416.90,243.70 417.30,245.20 417.30,248.70 L417.30,334.20" fill="url(#humpe)" stroke="#000" stroke-width="1.35" stroke-linejoin="round"/>
<path d="M416.90,326.20 L421.10,326.20 L421.00,335.20 L419.90,341.20 L419.00,342.20 L418.10,341.20 L417.00,335.20 Z" fill="#000"/>
<path d="M420.70,334.20 L420.70,253.10 C420.70,247.10 422.00,245.10 423.00,245.10 C423.60,245.10 424.00,246.60 424.00,250.10 L424.00,334.20" fill="url(#humpe)" stroke="#000" stroke-width="1.35" stroke-linejoin="round"/>
<path d="M423.60,326.20 L427.30,326.20 L427.20,335.20 L426.35,341.20 L425.45,342.20 L424.55,341.20 L423.70,335.20 Z" fill="#000"/>
<path d="M426.90,334.20 L426.90,253.10 C426.90,247.10 428.20,245.10 429.20,245.10 C429.80,245.10 430.20,246.60 430.20,250.10 L430.20,331.00" fill="url(#humpe)" stroke="#000" stroke-width="1.35" stroke-linejoin="round"/>
<path d="M429.80,323.00 L434.10,323.00 L434.00,332.00 L432.85,338.00 L431.95,339.00 L431.05,338.00 L429.90,332.00 Z" fill="#000"/>
<path d="M433.70,331.00 L433.70,252.50 C433.70,246.50 435.00,244.50 436.00,244.50 C436.60,244.50 437.00,246.00 437.00,249.50 L437.00,332.90" fill="url(#humpe)" stroke="#000" stroke-width="1.35" stroke-linejoin="round"/>
<path d="M436.60,324.90 L440.80,324.90 L440.70,333.90 L439.60,339.90 L438.70,340.90 L437.80,339.90 L436.70,333.90 Z" fill="#000"/>
<path d="M440.40,332.90 L440.40,250.50 C440.40,244.50 441.70,242.50 442.70,242.50 C443.30,242.50 443.70,244.00 443.70,247.50 L443.70,332.30" fill="url(#humpe2)" stroke="#3a1c1c" stroke-width="1.35" stroke-linejoin="round"/>
<path d="M443.30,324.30 L447.10,324.30 L447.00,333.30 L446.10,339.30 L445.20,340.30 L444.30,339.30 L443.40,333.30 Z" fill="#3a1c1c"/>
<path d="M446.70,332.30 L446.70,251.50 C446.70,245.50 448.00,243.50 449.00,243.50 C449.60,243.50 450.00,245.00 450.00,248.50 L450.00,333.60" fill="url(#humpe2)" stroke="#3a1c1c" stroke-width="1.35" stroke-linejoin="round"/>
<path d="M449.60,325.60 L453.40,325.60 L453.30,334.60 L452.40,340.60 L451.50,341.60 L450.60,340.60 L449.70,334.60 Z" fill="#3a1c1c"/>
<path d="M453.00,333.60 L453.00,250.00 C453.00,244.00 454.30,242.00 455.30,242.00 C455.90,242.00 456.30,243.50 456.30,247.00 L456.30,262.00" fill="url(#humpe2)" stroke="#3a1c1c" stroke-width="1.35" stroke-linejoin="round"/>
<path d="M455.3,262 L456.6,247.7 Q458,236 459.9,229.5 L461.5,229.5 L462.4,232.7 L464.3,231.8 L466.3,229.5 L468.3,229.8 L470.5,231" fill="none" stroke="#3a1c1c" stroke-width="1.3"/>
</g>
<rect x="311.00" y="218.35" width="161.00" height="132.75" fill="none" stroke="#000" stroke-width="1.5" />
<rect x="439.9" y="217.9" width="31.9" height="131.6" rx="3.5" fill="none" stroke="#ff0000" stroke-width="1.8" stroke-dasharray="5 2" stroke-dashoffset="2"/>
<text transform="translate(292.26,354.30) scale(1.1069,1)" font-size="10" fill="#000">0.0</text>
<line x1="311.00" y1="351.10" x2="313.50" y2="351.10" stroke="#000" stroke-width="1" />
<text transform="translate(292.26,317.20) scale(1.0985,1)" font-size="10" fill="#000">0.5</text>
<line x1="311.00" y1="314.60" x2="313.50" y2="314.60" stroke="#000" stroke-width="1" />
<text transform="translate(292.03,280.30) scale(1.1240,1)" font-size="10" fill="#000">1.0</text>
<line x1="311.00" y1="278.10" x2="313.50" y2="278.10" stroke="#000" stroke-width="1" />
<text transform="translate(292.03,243.30) scale(1.1154,1)" font-size="10" fill="#000">1.5</text>
<line x1="311.00" y1="241.60" x2="313.50" y2="241.60" stroke="#000" stroke-width="1" />
<text transform="translate(307.62,362.80) scale(0.9615,1)" font-size="10.8" fill="#000">0</text>
<text transform="translate(362.58,362.80) scale(1.0560,1)" font-size="10.8" fill="#000">2000</text>
<text transform="translate(427.44,362.80) scale(1.0470,1)" font-size="10.8" fill="#000">4000</text>
<line x1="342.90" y1="351.10" x2="342.90" y2="348.60" stroke="#000" stroke-width="1" />
<line x1="375.30" y1="351.10" x2="375.30" y2="348.60" stroke="#000" stroke-width="1" />
<line x1="407.60" y1="351.10" x2="407.60" y2="348.60" stroke="#000" stroke-width="1" />
<line x1="440.00" y1="351.10" x2="440.00" y2="348.60" stroke="#000" stroke-width="1" />
<text transform="translate(336.03,381.10) scale(1.0821,1)" font-size="11.4" fill="#000">Number of pulses</text>
<text transform="translate(282.60,329.31) rotate(-90) scale(1.0135,1)" font-size="12.2" fill="#000">Current (mA)</text>
<text transform="translate(387.68,209.70) scale(1.0580,1)" fill="#000" xml:space="preserve"><tspan font-size="10" dy="0">at T</tspan><tspan font-size="6.8" dy="2">PULSE</tspan><tspan font-size="10" dy="-2"> = 50 μs</tspan></text>
<text transform="translate(491.18,208.60) scale(1.1736,1)" font-size="13.5" fill="#000">(f)</text>
<line x1="567.92" y1="216.10" x2="567.92" y2="348.20" stroke="#d8d8d8" stroke-width="0.8" stroke-dasharray="1 1.7"/>
<line x1="604.04" y1="216.10" x2="604.04" y2="348.20" stroke="#d8d8d8" stroke-width="0.8" stroke-dasharray="1 1.7"/>
<line x1="640.16" y1="216.10" x2="640.16" y2="348.20" stroke="#d8d8d8" stroke-width="0.8" stroke-dasharray="1 1.7"/>
<line x1="532.00" y1="310.20" x2="676.10" y2="310.20" stroke="#d8d8d8" stroke-width="0.8" stroke-dasharray="1 1.7"/>
<line x1="532.00" y1="255.10" x2="676.10" y2="255.10" stroke="#d8d8d8" stroke-width="0.8" stroke-dasharray="1 1.7"/>
<polyline points="550,250.8 567.9,264.1 586.1,309.8 604,323.7" fill="none" stroke="#ff0080" stroke-width="2.8"/>
<rect x="546.10" y="246.90" width="7.80" height="7.80" fill="#ff0080" stroke="none" stroke-width="1" />
<rect x="564.00" y="260.20" width="7.80" height="7.80" fill="#ff0080" stroke="none" stroke-width="1" />
<rect x="582.20" y="305.90" width="7.80" height="7.80" fill="#ff0080" stroke="none" stroke-width="1" />
<rect x="600.10" y="319.80" width="7.80" height="7.80" fill="#ff0080" stroke="none" stroke-width="1" />
<polyline points="604,239.5 622.2,270.4 640.4,293.9" fill="none" stroke="#0000ff" stroke-width="2.8"/>
<circle cx="604" cy="239.5" r="4.3" fill="#0000ff"/>
<circle cx="622.2" cy="270.4" r="4.3" fill="#0000ff"/>
<circle cx="640.4" cy="293.9" r="4.3" fill="#0000ff"/>
<rect x="532.00" y="216.10" width="144.10" height="132.10" fill="none" stroke="#000" stroke-width="1.5" />
<text transform="translate(524.07,359.80) scale(1.1278,1)" font-size="10" fill="#000">4.6</text>
<text transform="translate(560.28,359.80) scale(1.1194,1)" font-size="10" fill="#000">4.8</text>
<text transform="translate(596.46,359.80) scale(1.1364,1)" font-size="10" fill="#000">5.0</text>
<text transform="translate(632.56,359.80) scale(1.1364,1)" font-size="10" fill="#000">5.2</text>
<text transform="translate(668.97,359.80) scale(1.1111,1)" font-size="10" fill="#000">5.4</text>
<line x1="567.92" y1="348.20" x2="567.92" y2="345.70" stroke="#000" stroke-width="1" />
<line x1="604.04" y1="348.20" x2="604.04" y2="345.70" stroke="#000" stroke-width="1" />
<line x1="640.16" y1="348.20" x2="640.16" y2="345.70" stroke="#000" stroke-width="1" />
<line x1="532.00" y1="310.20" x2="534.50" y2="310.20" stroke="#000" stroke-width="1" />
<text transform="translate(513.75,314.40) scale(1.0769,1)" font-size="10.3" fill="#000">10</text>
<text transform="translate(525.70,308.00) scale(1.0000,1)" font-size="6.3" fill="#000">2</text>
<line x1="532.00" y1="255.10" x2="534.50" y2="255.10" stroke="#000" stroke-width="1" />
<text transform="translate(513.75,258.80) scale(1.0769,1)" font-size="10.3" fill="#000">10</text>
<text transform="translate(525.70,252.60) scale(1.0000,1)" font-size="6.3" fill="#000">3</text>
<text transform="translate(505.00,321.80) rotate(-90) scale(0.9952,1)" font-size="11.8" fill="#000">TDDB (sec)</text>
<text transform="translate(557.17,381.70) scale(1.0380,1)" fill="#000" xml:space="preserve"><tspan font-size="11.4" dy="0">E-field (×10</tspan><tspan font-size="8.2" dy="-4.2">8</tspan><tspan font-size="11.4" dy="4.2"> V/m)</tspan></text>
<text transform="translate(549.59,308.10) scale(1.0516,1)" font-size="10.2" fill="#ff0080">TiN</text>
<text transform="translate(549.59,321.60) scale(1.0507,1)" fill="#ff0080" xml:space="preserve"><tspan font-size="10.2" dy="0">/HfO</tspan><tspan font-size="7.0" dy="2.2">2</tspan></text>
<text transform="translate(549.59,334.10) scale(1.0546,1)" font-size="10.2" fill="#ff0080">/TiN</text>
<text transform="translate(632.10,310.00) scale(0.9677,1)" font-size="10.2" fill="#0000ff">TiN</text>
<text transform="translate(630.70,323.40) scale(1.0404,1)" fill="#0000ff" xml:space="preserve"><tspan font-size="10.2" dy="0">/Ta</tspan><tspan font-size="7.0" dy="2.2">2</tspan><tspan font-size="10.2" dy="-2.2">O</tspan><tspan font-size="7.0" dy="2.2">5</tspan></text>
<text transform="translate(630.69,335.30) scale(1.0546,1)" font-size="10.2" fill="#0000ff">/TiN</text>
</svg>
</body></html>
